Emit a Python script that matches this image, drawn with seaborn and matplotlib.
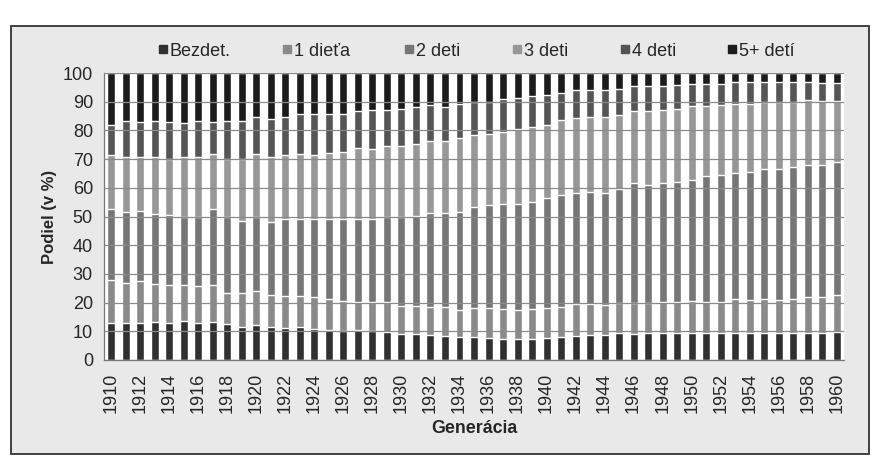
import numpy as np
import pandas as pd
import matplotlib
matplotlib.use("Agg")
import matplotlib.pyplot as plt
from matplotlib.patches import Rectangle
from matplotlib.lines import Line2D
import seaborn as sns

generacie = list(range(1910, 1961))
kategorie = ["Bezdet.", "1 dieťa", "2 deti", "3 deti", "4 deti", "5+ detí"]

bezdet = [13.0, 13.0, 12.8, 13.3, 13.0, 13.7, 13.0, 13.3, 12.4, 11.5,
          12.2, 11.5, 11.3, 11.6, 10.9, 10.6, 10.2, 10.6, 10.2, 9.9,
          9.0, 9.0, 8.7, 8.4, 8.0, 8.0, 7.7, 7.3, 7.3, 7.3,
          7.7, 8.0, 8.4, 8.7, 8.6, 9.3, 8.9, 9.3, 9.5, 9.5,
          9.3, 9.3, 9.3, 9.5, 9.5, 9.5, 9.3, 9.3, 9.3, 9.5, 9.9]
dieta1 = [14.8, 13.9, 14.8, 13.2, 13.0, 12.5, 12.8, 12.7, 11.0, 11.9,
          11.7, 11.1, 11.0, 10.7, 11.0, 10.7, 10.3, 9.7, 9.9, 10.2,
          9.8, 9.8, 9.7, 10.0, 9.5, 10.2, 10.4, 10.6, 10.2, 10.6,
          10.5, 10.4, 11.0, 10.7, 10.4, 10.4, 10.8, 10.4, 10.6, 10.6,
          11.3, 11.0, 11.0, 11.6, 11.4, 11.6, 11.6, 11.8, 12.5, 12.3, 12.7]
deti2 = [24.7, 24.7, 24.4, 24.5, 24.5, 23.7, 23.9, 26.5, 26.3, 25.1,
         26.0, 25.5, 27.0, 27.0, 27.2, 27.8, 28.6, 29.0, 29.2, 29.8,
         30.9, 31.4, 32.9, 32.9, 34.1, 35.2, 35.8, 36.4, 37.0, 37.2,
         38.3, 39.0, 38.8, 39.2, 39.2, 39.9, 42.0, 41.2, 41.4, 42.0,
         42.0, 43.7, 44.1, 44.1, 44.6, 45.4, 45.6, 46.2, 46.1, 46.1, 46.4]
deti3 = [19.1, 19.0, 18.6, 19.6, 19.5, 21.0, 20.9, 19.3, 20.5, 21.5,
         21.9, 22.5, 22.3, 22.5, 22.5, 23.1, 23.4, 24.5, 24.1, 24.5,
         24.7, 24.9, 25.0, 25.0, 25.8, 24.9, 25.0, 25.2, 25.9, 26.0,
         25.5, 26.1, 26.0, 25.9, 26.4, 25.7, 25.0, 25.8, 25.5, 25.5,
         25.8, 24.4, 24.3, 24.1, 23.8, 23.4, 23.4, 22.6, 22.6, 22.3, 21.2]
deti4 = [10.2, 12.6, 12.3, 12.6, 12.9, 11.8, 12.6, 11.1, 13.0, 13.2,
         12.9, 13.3, 13.1, 13.8, 14.0, 13.4, 13.3, 12.9, 13.6, 12.6,
         13.0, 13.2, 12.4, 12.0, 11.9, 11.7, 11.1, 11.3, 10.9, 10.9,
         10.2, 9.7, 9.8, 9.5, 9.4, 9.0, 8.7, 8.7, 8.4, 8.1,
         7.9, 7.7, 7.6, 7.5, 7.5, 6.9, 6.9, 6.9, 6.3, 6.3, 6.3]
deti5 = [18.2, 16.8, 17.1, 16.8, 17.1, 17.3, 16.8, 17.1, 16.8, 16.8,
         15.3, 16.1, 15.3, 14.4, 14.4, 14.4, 14.2, 13.3, 13.0, 13.0,
         12.6, 11.7, 11.3, 11.7, 10.7, 10.0, 10.0, 9.2, 8.7, 8.0,
         7.8, 6.8, 6.0, 6.0, 6.0, 5.7, 4.6, 4.6, 4.6, 4.3,
         3.7, 3.9, 3.7, 3.2, 3.2, 3.2, 3.2, 3.2, 3.2, 3.5, 3.5]

farby = ["#303030", "#8a8a8a", "#767676", "#979797", "#555555", "#1c1c1c"]

sns.set_style("white")
plt.rcParams["font.family"] = ["Liberation Sans", "DejaVu Sans"]

series = [bezdet, dieta1, deti2, deti3, deti4, deti5]
df = pd.DataFrame({k: v for k, v in zip(kategorie, series)})
df["Generácia"] = [str(g) for g in generacie]
cum = df[kategorie].cumsum(axis=1)
cum["Generácia"] = df["Generácia"]

fig = plt.figure(figsize=(8.9, 4.68), dpi=100, facecolor="white")
frame = Rectangle((11 / 890, 1 - 454 / 468), (869 - 11) / 890, (454 - 26) / 468,
                  transform=fig.transFigure, facecolor="#e9e9e9",
                  edgecolor="#333333", linewidth=1.3, zorder=-5)
fig.patches.append(frame)
ax = fig.add_axes([104 / 890, 1 - 360 / 468, (844 - 104) / 890, (360 - 73) / 468])
ax.set_zorder(1)
ax.set_facecolor("white")

# stacked by drawing cumulative totals from the top down
for k in range(len(kategorie) - 1, -1, -1):
    sns.barplot(data=cum, x="Generácia", y=kategorie[k], color=farby[k],
                width=0.55, saturation=1, ax=ax, zorder=2)

ax.set_ylim(0, 100)
ax.set_xlim(-0.5, len(generacie) - 0.5)
ax.set_yticks(range(0, 101, 10))
ax.yaxis.grid(True, color="#8a8a8a", linewidth=0.9)
ax.set_axisbelow(False)
for gl in ax.get_ygridlines():
    gl.set_zorder(3)

pos = np.arange(len(generacie))
ax.set_xticks(pos[::2])
ax.set_xticklabels([str(g) for g in generacie[::2]], rotation=90, fontsize=13)
ax.set_xticks(np.arange(-0.5, len(generacie), 1), minor=True)
ax.tick_params(axis="x", which="major", length=0, pad=9)
ax.tick_params(axis="x", which="minor", length=5, width=0.9, color="#777777", direction="out")
ax.tick_params(axis="y", length=5, width=0.9, color="#777777", direction="out", labelsize=13, pad=3)

for s in ["top", "right"]:
    ax.spines[s].set_visible(False)
for s in ["left", "bottom"]:
    ax.spines[s].set_color("#777777")
    ax.spines[s].set_linewidth(0.9)

ax.set_xlabel("Generácia", fontsize=12.8, fontweight="bold", labelpad=5)
ax.set_ylabel("Podiel (v %)", fontsize=12, fontweight="bold", labelpad=4)

# legend entries placed like the original (one per position)
leg_x = [158, 282, 404, 512, 620, 727]
for c, lab, xpx in zip(farby, kategorie, leg_x):
    h = Line2D([], [], linestyle="none", marker="s", markersize=5.5,
               markerfacecolor=c, markeredgecolor=c)
    fig.legend([h], [lab], loc="center left", bbox_to_anchor=(xpx / 890, 1 - 51 / 468),
               frameon=False, fontsize=13, handlelength=0.5, handletextpad=0.15,
               borderpad=0, borderaxespad=0)

fig.savefig("out.png", dpi=100, facecolor="white")
